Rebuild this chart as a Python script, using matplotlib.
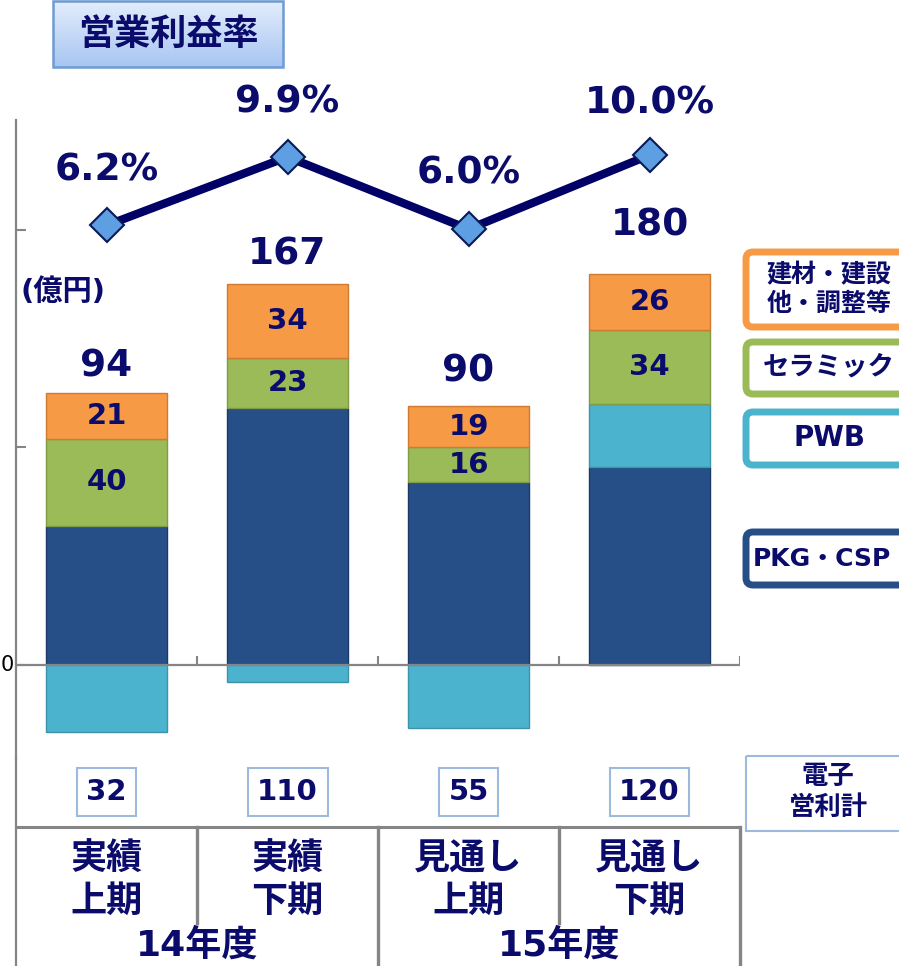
import matplotlib.pyplot as plt
import matplotlib.transforms as mtransforms
import numpy as np
from matplotlib.colors import LinearSegmentedColormap
from matplotlib.patches import FancyBboxPatch, Rectangle

plt.rcParams['font.family'] = ['DejaVu Sans', 'Noto Sans CJK JP']
plt.rcParams['font.weight'] = 'bold'

# data (億円, %)
periods = ['実績\n上期', '実績\n下期', '見通し\n上期', '見通し\n下期']
years = ['14年度', '15年度']
pkg_csp = [64, 118, 84, 91]
pwb = [-31, -8, -29, 29]
ceramic = [40, 23, 16, 34]
others = [21, 34, 19, 26]
totals = [94, 167, 90, 180]
margin = [6.2, 9.9, 6.0, 10.0]
denshi = [32, 110, 55, 120]
legend_names = ['建材・建設\n他・調整等', 'セラミック', 'PWB', 'PKG・CSP']

navy = '#0B0B6B'
grey = '#858585'
c_pkg, c_pwb, c_cer, c_oth = '#254F86', '#4BB3CE', '#9BBB59', '#F79A46'

W, H = 899, 966
fig = plt.figure(figsize=(W / 100, H / 100), dpi=100)

# main bar axes: left edge x=16px, zero at y=665px, 2.175 px per 億円
ax = fig.add_axes([16 / W, 1 - 758 / H, 724 / W, 638 / H], facecolor='none')
x = np.arange(len(periods))
pkg = np.array(pkg_csp)
pw = np.array(pwb)
cer = np.array(ceramic)
oth = np.array(others)
pw_bottom = np.where(pw > 0, pkg, 0)
cer_bottom = pkg + np.clip(pw, 0, None)
oth_bottom = cer_bottom + cer
bw = 0.663
ax.bar(x, pkg, bw, color=c_pkg, edgecolor='#1B3B66', lw=1, zorder=2)
ax.bar(x, pw, bw, bottom=pw_bottom, color=c_pwb, edgecolor='#3C93AA', lw=1, zorder=2)
ax.bar(x, cer, bw, bottom=cer_bottom, color=c_cer, edgecolor='#7F9C45', lw=1, zorder=2)
ax.bar(x, oth, bw, bottom=oth_bottom, color=c_oth, edgecolor='#CF7A33', lw=1, zorder=2)

for i in range(len(x)):
    ax.text(x[i], cer_bottom[i] + cer[i] / 2, str(ceramic[i]), ha='center', va='center',
            fontsize=21, color=navy, fontweight='bold', zorder=4)
    ax.text(x[i], oth_bottom[i] + oth[i] / 2, str(others[i]), ha='center', va='center',
            fontsize=21, color=navy, fontweight='bold', zorder=4)

tops = oth_bottom + oth
tot_off = [27, 30, 35, 48]
for i in range(len(x)):
    ax.annotate(str(totals[i]), (x[i], tops[i]), xytext=(0, tot_off[i]), textcoords='offset pixels',
                ha='center', va='center', fontsize=27, color=navy, fontweight='bold', zorder=4)

ax.set_xlim(-0.5, 3.5)
ax.set_ylim(-42.8, 250.6)
ax.axhline(0, color=grey, lw=1.6, zorder=3)
ax.vlines([0.5, 1.5, 2.5, 3.5], 0, 4.2, color=grey, lw=1.5, zorder=3)
for s in ['top', 'right', 'bottom']:
    ax.spines[s].set_visible(False)
ax.spines['left'].set_color(grey)
ax.spines['left'].set_linewidth(1.6)
ax.set_xticks([])
ax.set_yticks([0, 100, 200])
ax.tick_params(axis='y', direction='in', length=7, width=1.5, colors=grey, labelleft=False)

# margin line on its own scale
ax2 = ax.twinx()
ax2.plot(x, margin, color='#000066', lw=6, marker='D', ms=17, mfc='#5E9EE2', mec='#0A1A55',
         mew=1.5, zorder=5)
pct_off = [55, 54, 56, 52]
for i in range(len(x)):
    ax2.annotate(f'{margin[i]:.1f}%', (x[i], margin[i]), xytext=(0, pct_off[i]), textcoords='offset pixels',
                 ha='center', va='center', fontsize=27, color=navy, fontweight='bold')
ax2.set_ylim(-22.6, 11.9)
ax2.axis('off')

# overlay in pixel coordinates for title, legend and the table underneath
ov = fig.add_axes([0, 0, 1, 1], facecolor='none')
ov.set_xlim(0, W)
ov.set_ylim(H, 0)
ov.set_autoscale_on(False)
ov.axis('off')
bt = mtransforms.blended_transform_factory(ax.transData, ov.transData)

grad = np.linspace(0, 1, 100).reshape(-1, 1)
cmap = LinearSegmentedColormap.from_list('tb', ['#E4EEFC', '#A7C5F2'])
ov.imshow(grad, extent=(53, 283, 67, 0), cmap=cmap, aspect='auto', zorder=1)
ov.add_patch(Rectangle((53, 1), 230, 66, fill=False, ec='#6F9BD1', lw=1.8, zorder=2))
ov.set_xlim(0, W)
ov.set_ylim(H, 0)
ov.text(168, 35, '営業利益率', ha='center', va='center', fontsize=26, color=navy, fontweight='bold', zorder=3)

ov.text(63, 292, '(億円)', ha='center', va='center', fontsize=21, color=navy, fontweight='bold')
ov.text(1, 665, '0', ha='left', va='center', fontsize=15, color='black', fontweight='normal')

# legend boxes
leg_colors = [c_oth, c_cer, c_pwb, c_pkg]
leg_top = [252, 342, 412, 532]
leg_bot = [327, 394, 465, 585]
leg_size = [18, 19, 20, 18]
leg_x = [829, 829, 829, 822]
for col, t, b, name, fs, lx in zip(leg_colors, leg_top, leg_bot, legend_names, leg_size, leg_x):
    ov.add_patch(FancyBboxPatch((746, t), 180, b - t, boxstyle='round,pad=0,rounding_size=7',
                                fc='white', ec=col, lw=5))
    ov.text(lx, (t + b) / 2, name, ha='center', va='center', fontsize=fs, color=navy,
            fontweight='bold', linespacing=1.2)

# 電子営利計 row
for i in range(len(x)):
    ov.text(x[i], 792, str(denshi[i]), transform=bt, ha='center', va='center', fontsize=21,
            color=navy, fontweight='bold',
            bbox=dict(boxstyle='square,pad=0.33', fc='white', ec='#9DB9DC', lw=1.5))
ov.add_patch(Rectangle((746, 756), 180, 75, fill=False, ec='#9DB9DC', lw=1.5))
ov.text(828, 792, '電子\n営利計', ha='center', va='center', fontsize=19, color=navy,
        fontweight='bold', linespacing=1.25)

# table below the bars
ov.plot([16, 16], [758, H], color=grey, lw=1.6)
ov.plot([-0.5, 3.5], [827, 827], transform=bt, color=grey, lw=2.2)
for xb, yb in zip([0.5, 1.5, 2.5, 3.5], [923, H, 923, H]):
    ov.plot([xb, xb], [827, yb], transform=bt, color=grey, lw=2.4)
for i in range(len(x)):
    ov.text(x[i], 881, periods[i], transform=bt, ha='center', va='center', fontsize=26,
            color=navy, fontweight='bold', linespacing=1.32)
for j, yr in enumerate(years):
    ov.text(2 * j + 0.5, 945, yr, transform=bt, ha='center', va='center', fontsize=26,
            color=navy, fontweight='bold')

fig.savefig('out.png', dpi=100)
